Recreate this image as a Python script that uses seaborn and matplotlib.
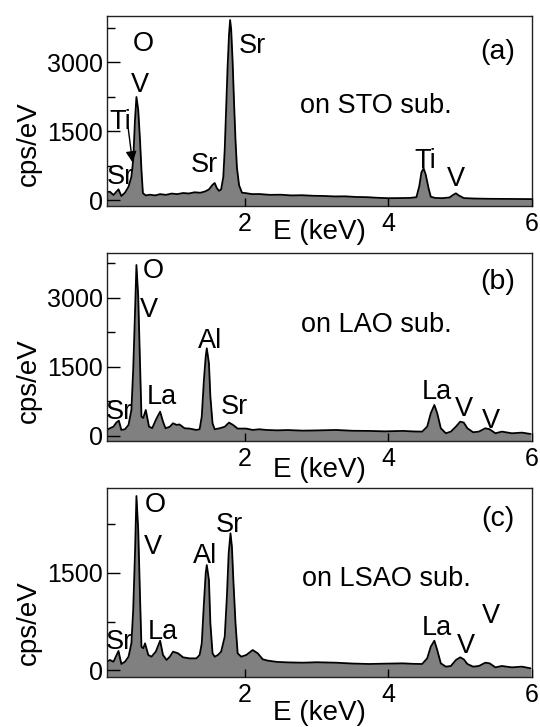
import matplotlib
matplotlib.use("Agg")
import matplotlib.pyplot as plt
from matplotlib.ticker import MultipleLocator
import seaborn as sns
import pandas as pd

sns.set_style("ticks")
plt.rcParams['font.family'] = ['Liberation Sans', 'DejaVu Sans']
plt.rcParams['text.color'] = 'black'
plt.rcParams['axes.labelcolor'] = 'black'
plt.rcParams['xtick.color'] = 'black'
plt.rcParams['ytick.color'] = 'black'

# ---------------- data ----------------
# Panel (a): on STO substrate
energy_a = [0.08, 0.12, 0.17, 0.24, 0.28, 0.33, 0.38, 0.42, 0.445, 0.47, 0.49, 0.515,
            0.54, 0.56, 0.58, 0.62, 0.68, 0.75, 0.82, 0.90, 0.98, 1.06, 1.14, 1.22,
            1.30, 1.38, 1.45, 1.50, 1.55, 1.58, 1.61, 1.64, 1.67, 1.70, 1.72, 1.74,
            1.76, 1.78, 1.795, 1.81, 1.83, 1.85, 1.87, 1.89, 1.92, 1.96, 2.02, 2.10,
            2.20, 2.35, 2.50, 2.65, 2.80, 2.95, 3.10, 3.25, 3.40, 3.55, 3.70, 3.85,
            4.00, 4.15, 4.30, 4.39, 4.43, 4.46, 4.49, 4.52, 4.56, 4.59, 4.65, 4.75,
            4.85, 4.91, 4.94, 4.98, 5.05, 5.20, 5.40, 5.60, 5.80, 5.99]
counts_a = [175, 180, 109, 232, 87, 159, 290, 507, 870, 1740, 2240, 1960,
            1300, 650, 150, 100, 115, 100, 128, 112, 140, 128, 152, 142,
            168, 158, 188, 230, 330, 370, 260, 200, 230, 500, 1100, 2000,
            2900, 3600, 3913, 3700, 3000, 2100, 1300, 700, 320, 160, 148, 128,
            130, 112, 115, 100, 104, 92, 88, 78, 80, 66, 62, 48,
            40, 42, 45, 62, 300, 600, 690, 550, 250, 72, 45, 40,
            55, 120, 145, 100, 42, 32, 26, 24, 22, 20]

# Panel (b): on LAO substrate
energy_b = [0.08, 0.12, 0.17, 0.21, 0.245, 0.28, 0.33, 0.38, 0.42, 0.445, 0.47, 0.49,
            0.515, 0.54, 0.56, 0.585, 0.62, 0.665, 0.71, 0.76, 0.82, 0.86, 0.895, 0.955,
            1.00, 1.05, 1.09, 1.16, 1.23, 1.325, 1.37, 1.40, 1.43, 1.455, 1.47, 1.50,
            1.52, 1.55, 1.58, 1.65, 1.72, 1.78, 1.835, 1.90, 2.02, 2.11, 2.20, 2.30,
            2.45, 2.60, 2.81, 3.00, 3.27, 3.50, 3.73, 3.95, 4.20, 4.35, 4.47, 4.54,
            4.59, 4.64, 4.68, 4.73, 4.80, 4.87, 4.94, 5.00, 5.05, 5.10, 5.18, 5.26,
            5.35, 5.41, 5.49, 5.58, 5.72, 5.86, 5.98]
counts_b = [130, 167, 202, 290, 333, 130, 145, 240, 565, 1435, 2670, 3717,
            3030, 1580, 420, 390, 565, 202, 170, 348, 528, 311, 167, 200,
            276, 240, 250, 167, 160, 130, 145, 420, 1217, 1725, 1906, 1580,
            855, 276, 145, 167, 200, 290, 240, 160, 160, 130, 145, 130,
            122, 128, 115, 120, 130, 112, 109, 100, 109, 98, 94, 202,
            493, 674, 493, 167, 58, 94, 202, 311, 290, 167, 80, 94,
            167, 145, 58, 94, 58, 72, 43]

# Panel (c): on LSAO substrate
energy_c = [0.08, 0.12, 0.17, 0.24, 0.28, 0.33, 0.38, 0.42, 0.445, 0.47, 0.49, 0.515,
            0.54, 0.56, 0.585, 0.61, 0.655, 0.70, 0.76, 0.82, 0.86, 0.91, 0.955, 1.00,
            1.07, 1.14, 1.23, 1.325, 1.37, 1.40, 1.43, 1.455, 1.47, 1.50, 1.52, 1.55,
            1.58, 1.625, 1.67, 1.72, 1.75, 1.775, 1.80, 1.82, 1.84, 1.87, 1.90, 1.95,
            2.02, 2.11, 2.18, 2.25, 2.32, 2.45, 2.60, 2.81, 3.00, 3.27, 3.50, 3.73,
            3.95, 4.20, 4.35, 4.47, 4.54, 4.59, 4.64, 4.68, 4.73, 4.80, 4.87, 4.94,
            5.00, 5.05, 5.10, 5.18, 5.26, 5.35, 5.41, 5.49, 5.58, 5.72, 5.86, 5.98]
counts_c = [128, 155, 128, 294, 93, 128, 206, 412, 928, 1804, 2690, 2164,
            1134, 361, 335, 412, 232, 206, 284, 453, 232, 155, 206, 284,
            258, 196, 180, 180, 232, 412, 1031, 1495, 1623, 1391, 722, 258,
            206, 232, 284, 515, 1134, 1804, 2113, 1907, 1391, 722, 258, 206,
            232, 309, 258, 165, 145, 125, 118, 113, 120, 113, 100, 93,
            98, 103, 95, 93, 180, 361, 453, 309, 103, 52, 62, 155,
            196, 165, 93, 52, 62, 113, 103, 41, 62, 41, 52, 26]

panel_tags = ["(a)", "(b)", "(c)"]
substrates = ["on STO sub.", "on LAO sub.", "on LSAO sub."]
y_major = [[0, 1500, 3000], [0, 1500, 3000], [0, 1500]]
x_major = [2, 4, 6]

# peak labels: (text, energy, counts)
labels_a = [("O", 0.58, 3390), ("V", 0.54, 2500), ("Sr", 0.26, 500),
            ("Sr", 1.44, 760), ("Sr", 2.11, 3350), ("Ti", 4.51, 850), ("V", 4.94, 455)]
labels_b = [("O", 0.72, 3587), ("V", 0.66, 2740), ("Sr", 0.25, 520), ("La", 0.84, 850),
            ("Al", 1.51, 2065), ("Sr", 1.86, 630), ("La", 4.68, 957),
            ("V", 5.05, 590), ("V", 5.43, 326)]
labels_c = [("O", 0.75, 2550), ("V", 0.72, 1900), ("Sr", 0.25, 433), ("La", 0.86, 587),
            ("Al", 1.44, 1762), ("Sr", 1.79, 2242), ("La", 4.68, 649),
            ("V", 5.08, 371), ("V", 5.43, 835)]

# ---------------- layout ----------------
W, H = 540, 727
fig = plt.figure(figsize=(W / 100, H / 100), dpi=100)

boxes = [(107, 16, 532, 206), (107, 253, 532, 441), (107, 488, 532, 677)]
ylims = [(-130, 4000), (-110, 3978), (-108, 2814)]
sub_pos = [(3.83, 2040), (3.83, 2413), (3.97, 1407)]
tag_pos = [(5.52, 3220), (5.52, 3348), (5.52, 2334)]
xlabel_y = [-0.137, -0.154, -0.19]
ylabel_y = [0.33, 0.32, 0.29]

spectra = [(energy_a, counts_a, labels_a), (energy_b, counts_b, labels_b),
           (energy_c, counts_c, labels_c)]

for i, (box, (E, C, labs)) in enumerate(zip(boxes, spectra)):
    l, t, r, b = box
    ax = fig.add_axes([l / W, 1 - b / H, (r - l) / W, (b - t) / H])
    df = pd.DataFrame({"E": E, "cps": C})
    ax.fill_between(df["E"], df["cps"], -1000, color="#808080", lw=0, zorder=1)
    sns.lineplot(data=df, x="E", y="cps", ax=ax, color="black", lw=1.3, zorder=2)
    ax.set_xlim(0.08, 6.0)
    ax.set_ylim(*ylims[i])
    ax.set_axisbelow(False)

    ax.set_xticks(x_major)
    ax.set_xticklabels([str(v) for v in x_major])
    ax.set_yticks(y_major[i])
    ax.set_yticklabels([str(v) for v in y_major[i]])
    ax.yaxis.set_minor_locator(MultipleLocator(750))
    ax.tick_params(axis="x", which="major", direction="in", length=6, width=1,
                   labelsize=18, pad=4, top=False)
    ax.tick_params(axis="y", which="major", direction="in", length=9, width=1,
                   labelsize=18, pad=3, right=False)
    ax.tick_params(axis="y", which="minor", direction="in", length=6, width=1,
                   right=False)
    for s in ax.spines.values():
        s.set_color("#222222")
        s.set_linewidth(1.0)

    ax.set_xlabel("E (keV)", fontsize=20)
    ax.xaxis.label.set_va("center")
    ax.xaxis.set_label_coords(0.5, xlabel_y[i])
    ax.set_ylabel("cps/eV", fontsize=20)
    ax.yaxis.label.set_va("center")
    ax.yaxis.set_label_coords(-0.184, ylabel_y[i])

    for txt, ex, cy in labs:
        ax.text(ex, cy, txt, fontsize=19.5, ha="center", va="center")
    ax.text(*sub_pos[i], substrates[i], fontsize=19.5, ha="center", va="center")
    ax.text(*tag_pos[i], panel_tags[i], fontsize=20.5, ha="center", va="center")

    if i == 0:
        ax.text(0.26, 1700, "Ti", fontsize=19.5, ha="center", va="center")
        ax.annotate("", xy=(0.44, 760), xytext=(0.37, 1630),
                    arrowprops=dict(arrowstyle="-|>", color="black", lw=1,
                                    mutation_scale=16))

fig.savefig("out.png", dpi=100)
